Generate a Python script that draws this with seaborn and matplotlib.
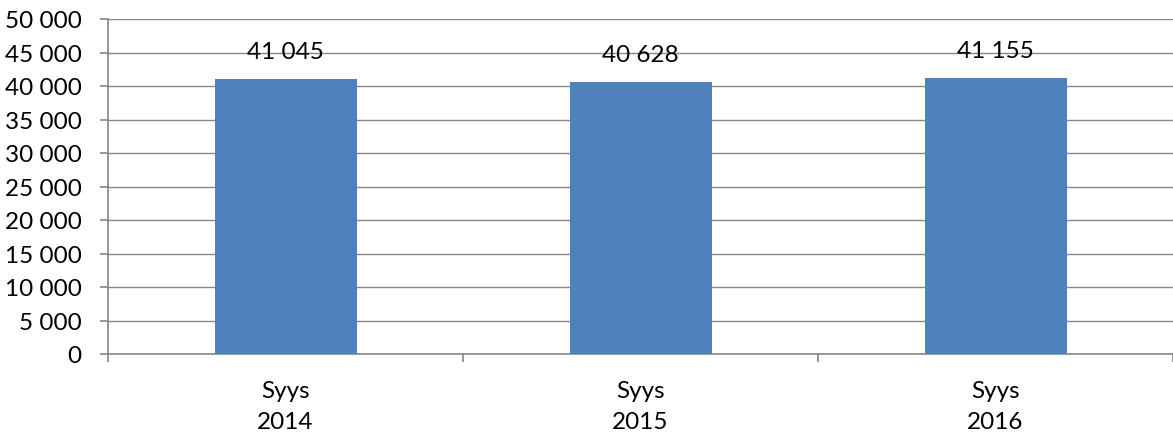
import matplotlib
matplotlib.use("Agg")
import matplotlib.pyplot as plt
import seaborn as sns
import pandas as pd
from matplotlib.ticker import FuncFormatter, FixedLocator

categories = ["Syys\n2014", "Syys\n2015", "Syys\n2016"]
values = [41045, 40628, 41155]

sns.set_theme(style="white")
plt.rcParams['font.family'] = ['Lato', 'DejaVu Sans']

df = pd.DataFrame({"period": categories, "count": values})

fig = plt.figure(figsize=(11.73, 4.35), dpi=100)
ax = fig.add_axes([108/1173, 1 - 355/435, 1 - 108/1173, (355 - 20)/435])

sns.barplot(data=df, x="period", y="count", color="#4F81BD", saturation=1,
            width=0.4, ax=ax, zorder=3, linewidth=0, edgecolor="none")

gray = "#868686"
fmt = lambda v: f"{int(v):,}".replace(",", " ")
fs = 17.5

ax.set_ylim(0, 50000)
ax.set_xlim(-0.5, 2.5)
ax.yaxis.set_major_locator(FixedLocator(list(range(0, 50001, 5000))))
ax.yaxis.set_major_formatter(FuncFormatter(lambda v, p: fmt(v)))
ax.grid(axis="y", color=gray, linewidth=1.0, zorder=0)
ax.set_axisbelow(True)

# category boundary ticks
ax.set_xticks([-0.5, 0.5, 1.5, 2.5])
ax.set_xticklabels([])
ax.set_xticks([0, 1, 2], minor=True)
ax.set_xticklabels(categories, minor=True, linespacing=1.55)
ax.tick_params(axis="x", which="major", length=6, width=1.2, color=gray, direction="out", bottom=True)
ax.tick_params(axis="x", which="minor", length=0, pad=19, labelsize=fs, labelcolor="black")
ax.tick_params(axis="y", length=6, width=1.2, color=gray, direction="out", left=True,
               labelsize=fs, labelcolor="black", pad=13)

for s in ["top", "right"]:
    ax.spines[s].set_visible(False)
for s in ["left", "bottom"]:
    ax.spines[s].set_color(gray)
    ax.spines[s].set_linewidth(1.2)

ax.set_xlabel("")
ax.set_ylabel("")

for i, v in enumerate(values):
    ax.annotate(fmt(v), (i, v), xytext=(0, 20), textcoords="offset points",
                ha="center", va="center", fontsize=fs, color="black")

fig.savefig("out.png", dpi=100)
